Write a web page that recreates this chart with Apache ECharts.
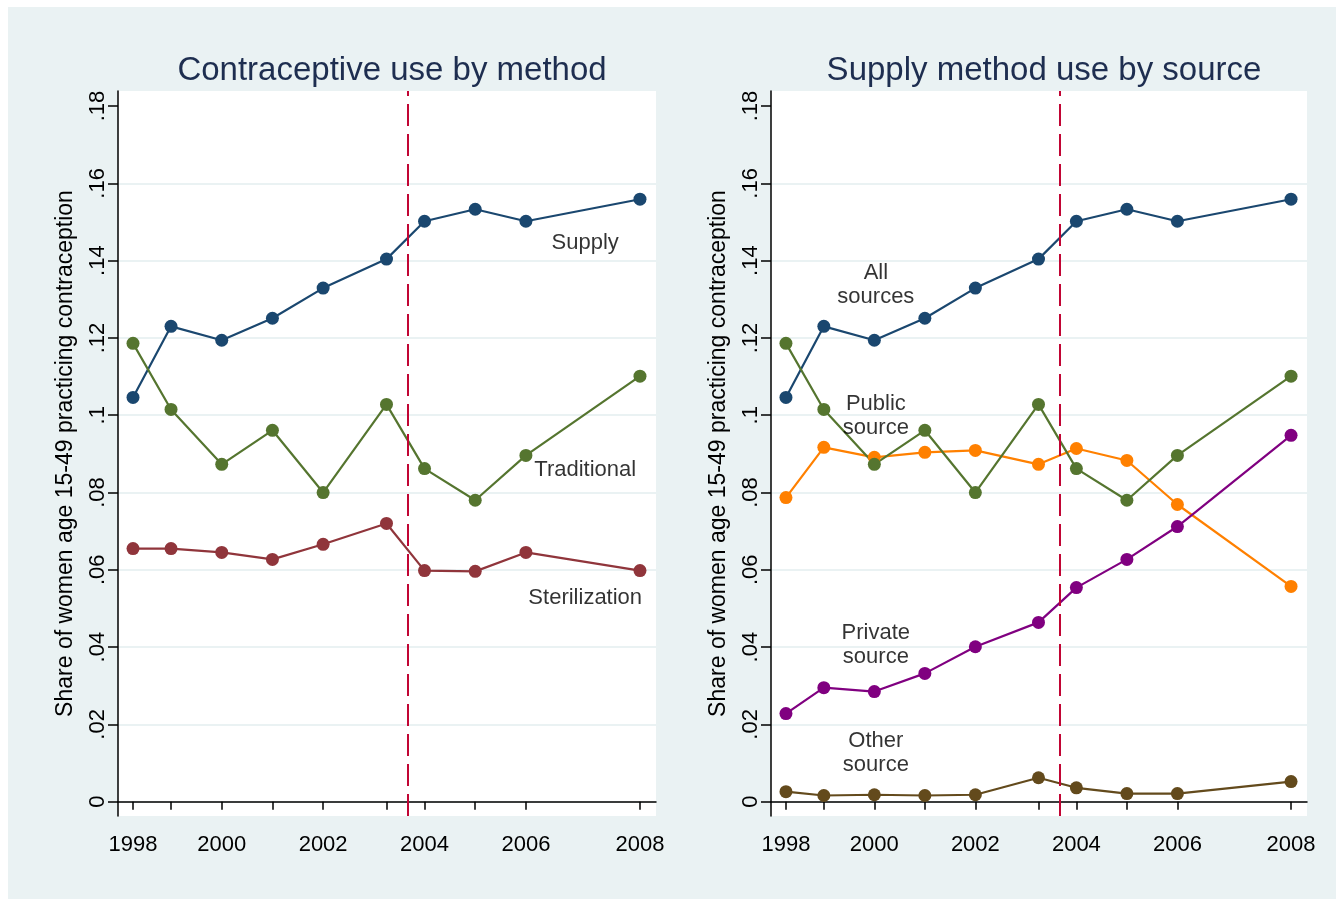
<!DOCTYPE html>
<html>
<head>
<meta charset="utf-8">
<script src="https://cdn.jsdelivr.net/npm/echarts@6/dist/echarts.min.js"></script>
<style>
  html, body { margin: 0; padding: 0; background: #eaf2f3; overflow: hidden; }
  #frame { position: absolute; left: 0; top: 0; width: 1336px; height: 899px; box-sizing: border-box;
           border-left: 8px solid #ffffff; border-top: 7px solid #ffffff; }
  #chart { width: 1328px; height: 892px; }
</style>
</head>
<body>
<div id="frame"><div id="chart"></div></div>
<script>
  // survey rounds as decimal years (rounds are not evenly spaced)
  const rounds = [1998, 1998.75, 1999.75, 2000.75, 2001.75, 2003, 2003.75, 2004.75, 2005.75, 2008];
  const yearTickPos = [1998, 1999.75, 2001.75, 2003.75, 2005.75, 2008];
  const yearTickText = ['1998', '2000', '2002', '2004', '2006', '2008'];
  const shareTicks = [0, 0.02, 0.04, 0.06, 0.08, 0.1, 0.12, 0.14, 0.16, 0.18];
  const shareTickText = ['0', '.02', '.04', '.06', '.08', '.1', '.12', '.14', '.16', '.18'];
  const reformDate = 2003.42;

  // left panel: by method
  const supply = [0.1046, 0.1230, 0.1194, 0.1251, 0.1329, 0.1404, 0.1502, 0.1533, 0.1502, 0.1559];
  const traditional = [0.1186, 0.1015, 0.0873, 0.0961, 0.0800, 0.1028, 0.0862, 0.0780, 0.0896, 0.1101];
  const sterilization = [0.0655, 0.0655, 0.0645, 0.0627, 0.0666, 0.0720, 0.0598, 0.0596, 0.0645, 0.0598];

  // right panel: supply methods by source
  const publicSrc = [0.0787, 0.0917, 0.0891, 0.0904, 0.0909, 0.0873, 0.0914, 0.0883, 0.0769, 0.0557];
  const privateSrc = [0.0228, 0.0295, 0.0285, 0.0332, 0.0401, 0.0464, 0.0554, 0.0627, 0.0712, 0.0948];
  const otherSrc = [0.0026, 0.0016, 0.0018, 0.0016, 0.0018, 0.0062, 0.0036, 0.0021, 0.0021, 0.0052];

  // text labels placed next to the lines
  const leftNotes = [['Supply', 2006.92, 0.1446], ['Traditional', 2006.92, 0.0858], ['Sterilization', 2006.92, 0.0527]];
  const rightNotes = [['All\nsources', 1999.78, 0.1336], ['Public\nsource', 1999.78, 0.0997],
                      ['Private\nsource', 1999.78, 0.0405], ['Other\nsource', 1999.78, 0.0126]];

  const chart = echarts.init(document.getElementById('chart'));
  const font = "'Liberation Sans', Arial, sans-serif";

  function pairs(vals) {
    return vals.map(function (v, i) { return [rounds[i], v]; });
  }

  function xAxisFor(idx) {
    return {
      type: 'value', gridIndex: idx, min: 1997.704, max: 2008.316,
      axisLine: { lineStyle: { color: '#000', width: 1.5 } },
      axisTick: { customValues: rounds, length: 8, lineStyle: { color: '#000', width: 1.5 } },
      axisLabel: {
        customValues: yearTickPos, margin: 18, fontSize: 22, color: '#000', fontFamily: font,
        formatter: function (v) {
          let k = yearTickPos.findIndex(function (p) { return Math.abs(p - v) < 1e-6; });
          return k >= 0 ? yearTickText[k] : '';
        }
      },
      splitLine: { show: false }
    };
  }

  function yAxisFor(idx) {
    return {
      type: 'value', gridIndex: idx, min: -0.0037, max: 0.1839,
      name: 'Share of women age 15-49 practicing contraception',
      nameLocation: 'middle', nameGap: 41,
      nameTextStyle: { fontSize: 23, color: '#000', fontFamily: font },
      axisLine: { show: true, lineStyle: { color: '#000', width: 1.5 } },
      axisTick: { show: true, customValues: shareTicks, length: 10, lineStyle: { color: '#000', width: 1.5 } },
      axisLabel: {
        customValues: shareTicks, rotate: 90, margin: 9, fontSize: 22, color: '#000', fontFamily: font,
        formatter: function (v) {
          return shareTickText[Math.round(v * 50)];
        }
      },
      splitLine: {
        show: true,
        lineStyle: {
          color: ['#eaf2f3', '#eaf2f3', '#eaf2f3', '#eaf2f3', '#eaf2f3',
                  '#eaf2f3', '#eaf2f3', '#eaf2f3', '#eaf2f3', 'rgba(0,0,0,0)'],
          width: 2
        }
      }
    };
  }

  function line(name, vals, color, idx) {
    return {
      name: name, type: 'line', xAxisIndex: idx, yAxisIndex: idx,
      data: pairs(vals),
      symbol: 'circle', symbolSize: 13, showSymbol: true,
      lineStyle: { color: color, width: 2.2 },
      itemStyle: { color: color }
    };
  }

  function notes(list, idx) {
    return {
      type: 'scatter', xAxisIndex: idx, yAxisIndex: idx, symbolSize: 1,
      itemStyle: { color: 'rgba(0,0,0,0)' },
      data: list.map(function (n) { return { name: n[0], value: [n[1], n[2]] }; }),
      label: {
        show: true, position: 'inside', formatter: '{b}',
        fontSize: 22, lineHeight: 24, color: '#000', fontFamily: font
      },
      z: 5
    };
  }

  function reform(idx) {
    return {
      type: 'line', xAxisIndex: idx, yAxisIndex: idx, data: [],
      markLine: {
        silent: true, symbol: 'none', label: { show: false },
        lineStyle: { color: '#c10534', width: 2, type: [22, 8] },
        data: [{ xAxis: reformDate }]
      },
      z: 1
    };
  }

  const option = {
    backgroundColor: '#eaf2f3',
    animation: false,
    textStyle: { fontFamily: font },
    title: [
      { text: 'Contraceptive use by method', left: 379, top: 42, textAlign: 'center',
        textStyle: { fontSize: 33, fontWeight: 'normal', color: '#1e2e50', fontFamily: font } },
      { text: 'Supply method use by source', left: 1031, top: 42, textAlign: 'center',
        textStyle: { fontSize: 33, fontWeight: 'normal', color: '#1e2e50', fontFamily: font } }
    ],
    grid: [
      { left: 110, right: 680, top: 84, bottom: 83, show: true, backgroundColor: '#ffffff', borderWidth: 0 },
      { left: 763, right: 29, top: 84, bottom: 83, show: true, backgroundColor: '#ffffff', borderWidth: 0 }
    ],
    xAxis: [xAxisFor(0), xAxisFor(1)],
    yAxis: [yAxisFor(0), yAxisFor(1)],
    series: [
      reform(0),
      line('Supply', supply, '#1a476f', 0),
      line('Traditional', traditional, '#55752f', 0),
      line('Sterilization', sterilization, '#90353b', 0),
      notes(leftNotes, 0),
      reform(1),
      line('All sources', supply, '#1a476f', 1),
      line('Public source', publicSrc, '#ff8000', 1),
      line('Traditional', traditional, '#55752f', 1),
      line('Private source', privateSrc, '#800080', 1),
      line('Other source', otherSrc, '#634a1c', 1),
      notes(rightNotes, 1)
    ]
  };

  chart.setOption(option);
</script>
</body>
</html>
